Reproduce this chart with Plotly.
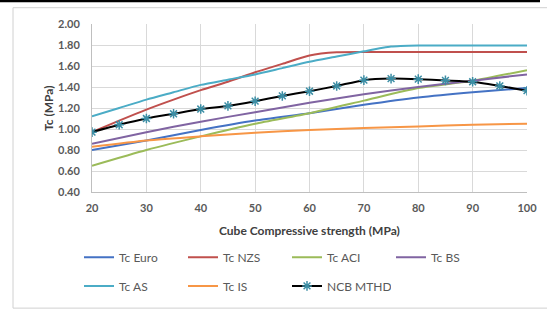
import plotly.graph_objects as go

x5 = [20, 25, 30, 35, 40, 45, 50, 55, 60, 65, 70, 75, 80, 85, 90, 95, 100]
x10 = [20, 30, 40, 50, 60, 70, 80, 90, 100]

tc_euro = [0.80, 0.89, 0.99, 1.08, 1.15, 1.23, 1.30, 1.35, 1.39]
tc_nzs = [0.97, 1.08, 1.185, 1.28, 1.37, 1.45, 1.54, 1.62, 1.70, 1.73, 1.733, 1.733, 1.733, 1.733, 1.733, 1.733, 1.733]
tc_aci = [0.65, 0.80, 0.93, 1.05, 1.15, 1.27, 1.39, 1.46, 1.56]
tc_bs = [0.86, 0.97, 1.07, 1.16, 1.25, 1.33, 1.40, 1.46, 1.52]
tc_as = [1.12, 1.20, 1.28, 1.35, 1.42, 1.47, 1.52, 1.58, 1.64, 1.69, 1.74, 1.785, 1.795, 1.796, 1.796, 1.796, 1.796]
tc_is = [0.83, 0.89, 0.93, 0.965, 0.99, 1.01, 1.025, 1.04, 1.05]
ncb = [0.97, 1.04, 1.10, 1.145, 1.19, 1.22, 1.265, 1.315, 1.36, 1.41, 1.465, 1.48, 1.475, 1.463, 1.45, 1.41, 1.365]

y_ticks = [0.4, 0.6, 0.8, 1.0, 1.2, 1.4, 1.6, 1.8, 2.0]
x_ticks = [20, 30, 40, 50, 60, 70, 80, 90, 100]

FONT = "Lato"
L, R, T, B = 92, 20, 24, 118
PW, PH = 547 - L - R, 312 - T - B


def px(x):
    return (x - L) / PW


def py(y):
    return (312 - B - y) / PH


fig = go.Figure()


def add(name, xs, ys, color, legend):
    fig.add_trace(go.Scatter(x=xs, y=ys, name=name, mode="lines",
                             line=dict(color=color, width=2, shape="spline", smoothing=0.6),
                             legend=legend))


add("Tc Euro", x10, tc_euro, "#4472C4", "legend")
add("Tc NZS", x5, tc_nzs, "#C0504D", "legend")
add("Tc ACI", x10, tc_aci, "#9BBB59", "legend")
add("Tc BS", x10, tc_bs, "#8064A2", "legend")
add("Tc AS", x5, tc_as, "#4BACC6", "legend2")
add("Tc IS", x10, tc_is, "#F79646", "legend2")
fig.add_trace(go.Scatter(x=x5, y=ncb, name="NCB MTHD", mode="lines+markers",
                         line=dict(color="black", width=2, shape="spline", smoothing=0.6),
                         marker=dict(symbol="asterisk-open", size=8, color="#3c8ea5",
                                     line=dict(color="#3c8ea5", width=1.5)),
                         legend="legend2"))

legfont = dict(family=FONT, size=12, color="#595959")
common_leg = dict(orientation="h", xanchor="left", yanchor="middle",
                  entrywidth=59, entrywidthmode="pixels", font=legfont,
                  bgcolor="rgba(0,0,0,0)", borderwidth=0)
fig.update_layout(
    width=547, height=312,
    margin=dict(l=L, r=R, t=T, b=B),
    paper_bgcolor="white", plot_bgcolor="white",
    font=dict(family=FONT, color="#595959"),
    showlegend=True,
    legend=dict(x=px(79), y=py(260), **common_leg),
    legend2=dict(x=px(79), y=py(289), **common_leg),
    xaxis=dict(range=[20, 100], tickvals=x_ticks, showgrid=True, gridcolor="#d9d9d9",
               gridwidth=1, showline=True, linecolor="#bfbfbf", zeroline=False,
               automargin=False, ticklabelstandoff=6,
               tickfont=dict(family=FONT, size=11, color="#595959", weight="bold")),
    yaxis=dict(range=[0.4, 2.0], tickvals=y_ticks, tickformat=".2f", showgrid=True,
               gridcolor="#d9d9d9", gridwidth=1, showline=True, linecolor="#bfbfbf",
               zeroline=False, automargin=False, ticklabelstandoff=9,
               tickfont=dict(family=FONT, size=11, color="#595959", weight="bold")),
)
fig.add_annotation(text="<b>Cube Compressive strength (MPa)</b>", xref="paper", yref="paper",
                   x=0.5, y=py(233), xanchor="center", yanchor="middle", showarrow=False,
                   font=dict(family=FONT, size=12, color="#404040"))
fig.add_annotation(text="<b>Tc (MPa)</b>", xref="paper", yref="paper", textangle=-90,
                   x=px(48), y=py(109), xanchor="center", yanchor="middle", showarrow=False,
                   font=dict(family=FONT, size=12, color="#404040"))
# chart border and top rule
fig.add_shape(type="rect", xref="paper", yref="paper", x0=px(13), x1=px(560),
              y0=py(311.5), y1=py(7.5), line=dict(color="#d0d0d0", width=1), layer="below")
fig.add_shape(type="rect", xref="paper", yref="paper", x0=px(0), x1=px(540),
              y0=py(2), y1=py(0), fillcolor="black", line=dict(width=0), layer="above")
post = ("document.body.style.margin='0';"
        "var d=document.createElement('div');"
        "d.style.cssText='position:fixed;left:0;top:0;width:540px;height:2px;background:#000;z-index:1000;';"
        "document.body.appendChild(d);")
fig.write_html("out.html", config={"displayModeBar": False}, post_script=post)
